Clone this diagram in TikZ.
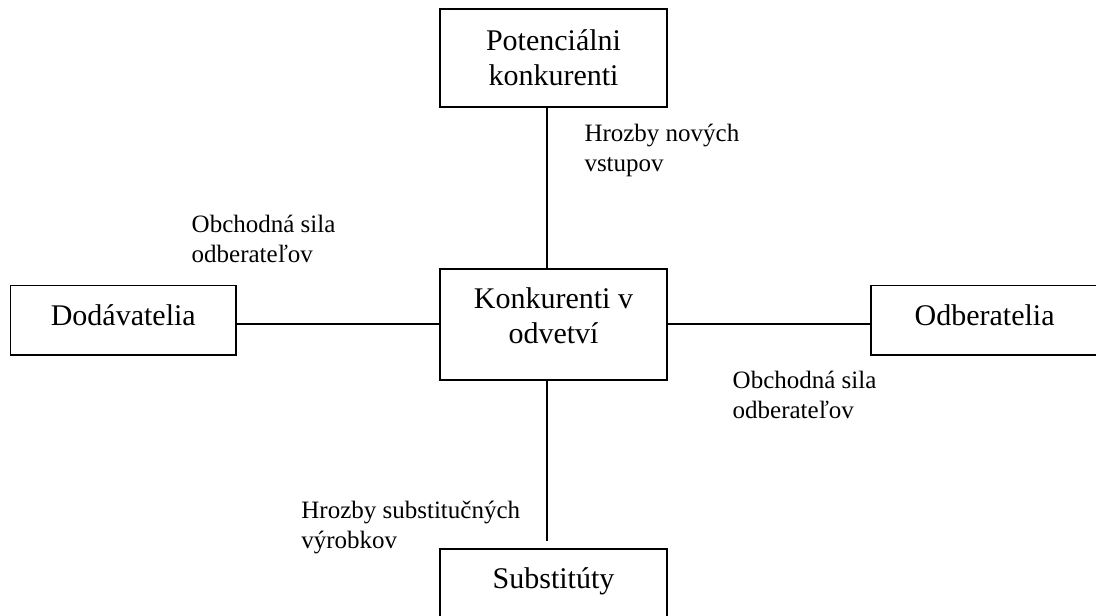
\documentclass[tikz,border=0pt]{standalone}
\usepackage{fontspec}
\setmainfont{Liberation Serif}
\usetikzlibrary{positioning}

\begin{document}
\begin{tikzpicture}[x=0.5pt, y=-0.5pt, line width=0.9pt,
    force/.style={draw, rectangle, minimum width=113.5pt, align=center, inner sep=0pt, font=\fontsize{15}{17.5}\selectfont},
    threat/.style={anchor=base west, align=left, inner sep=0pt, font=\fontsize{12.5}{15}\selectfont}]
    % five forces; coordinates in pixels, y grows downward
    \useasboundingbox (0,0) rectangle (1096,615);
    \node[force, minimum height=49pt] (pot) at (553.5,57.7) {Potenciálni\\konkurenti};
    \node[force, minimum height=55.5pt, text depth=8.5pt] (konk) at (553.5,324.2) {Konkurenti v\\odvetví};
    \node[force, minimum width=112.75pt, minimum height=34.75pt, text depth=5.5pt] (dod) at (123.3,320.3) {Dodávatelia};
    \node[force, minimum height=34.75pt, text depth=5.5pt] (odb) at (984.6,320.3) {Odberatelia};
    \node[force, anchor=north, minimum height=50pt, text depth=21.2pt] (sub) at (553.5,548) {Substitúty};
    \node[threat] (tnew) at (583.6,171) {Hrozby nových\\vstupov};
    \node[threat] (tsup) at (190.8,262) {Obchodná sila\\odberateľov};
    \node[threat] (tbuy) at (731.8,418) {Obchodná sila\\odberateľov};
    \node[threat] (tsub) at (300.5,548) {Hrozby substitučných\\výrobkov};
    \draw ([xshift=-3.45pt]pot.south) -- ([xshift=-3.45pt]konk.north);
    \draw ([xshift=-3.45pt]konk.south) -- ([xshift=-3.45pt, yshift=3.75pt]sub.north);
    \draw (dod.east |- konk.west) -- (konk.west);
    \draw (konk.east) -- (odb.west |- konk.east);
\end{tikzpicture}
\end{document}
